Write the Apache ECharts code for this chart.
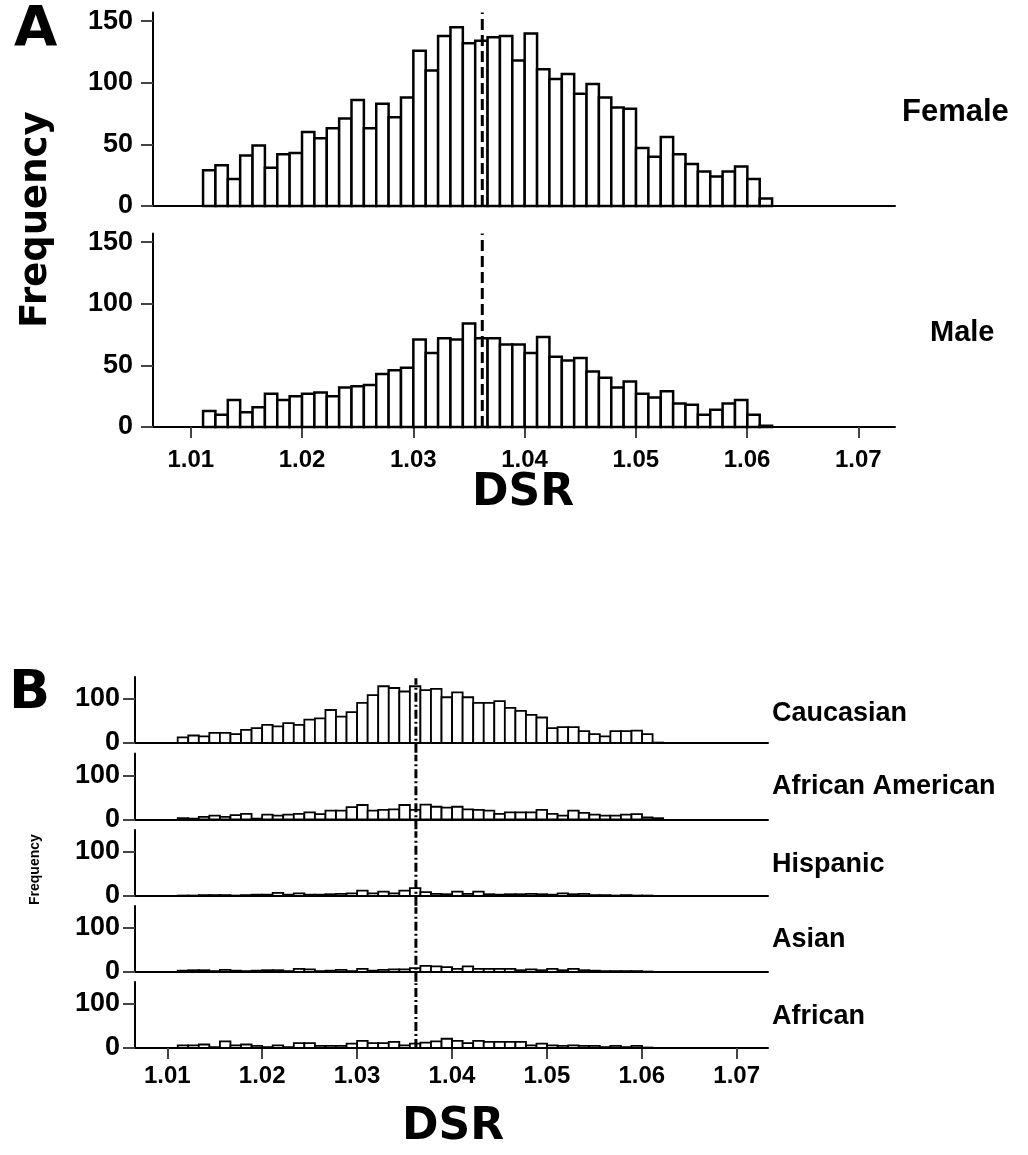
<!DOCTYPE html>
<html>
<head>
<meta charset="utf-8">
<script src="https://cdn.jsdelivr.net/npm/echarts@6/dist/echarts.min.js"></script>
<style>
  html, body { margin: 0; padding: 0; background: #fff; }
  #chart { width: 1028px; height: 1155px; }
</style>
</head>
<body>
<div id="chart"></div>
<script>
// histogram bins (DSR)
var binStart = 1.0111;
var binWidth = 0.001112;
var meanDSR = 1.0362;
var xTicks = [1.01, 1.02, 1.03, 1.04, 1.05, 1.06, 1.07];
var yTicksA = [0, 50, 100, 150];
var yTicksB = [0, 100];

// panel A
var female = [29, 33, 22, 41, 49, 31, 42, 43, 60, 55, 63, 71, 86, 63, 83, 72, 88, 126, 110, 138, 145, 132, 134,
  137, 138, 118, 140, 111, 103, 107, 91, 99, 88, 80, 79, 47, 40, 56, 42, 34, 28, 24, 28, 32, 22, 6];
var male = [13, 10, 22, 12, 16, 27, 22, 25, 27, 28, 25, 32, 33, 34, 43, 46, 48, 71, 60, 72, 71, 84, 72,
  72, 67, 67, 60, 73, 57, 54, 56, 45, 40, 32, 37, 27, 24, 29, 19, 18, 10, 14, 19, 22, 10, 1];

// panel B
var caucasian = [13, 17, 15, 23, 23, 20, 30, 34, 41, 38, 45, 41, 53, 56, 75, 60, 70, 91, 109, 129, 125, 117, 129,
  120, 123, 104, 115, 104, 91, 91, 95, 80, 73, 64, 58, 34, 36, 36, 27, 20, 15, 27, 27, 28, 20, 1];
var africanAmerican = [3, 2, 6, 9, 6, 10, 13, 2, 11, 9, 11, 13, 16, 12, 20, 20, 28, 33, 20, 22, 23, 33, 22,
  34, 29, 27, 29, 23, 22, 20, 13, 16, 16, 16, 22, 13, 9, 20, 15, 11, 9, 9, 11, 12, 5, 3];
var hispanic = [1, 1, 2, 2, 2, 1, 2, 3, 3, 7, 3, 6, 3, 3, 4, 5, 6, 12, 6, 10, 6, 12, 18,
  9, 5, 4, 10, 5, 10, 4, 3, 4, 4, 5, 4, 3, 6, 4, 5, 2, 2, 1, 2, 1, 1, 0];
var asian = [3, 4, 4, 2, 5, 3, 2, 3, 4, 4, 2, 7, 6, 2, 3, 5, 2, 7, 3, 5, 6, 6, 9,
  14, 13, 11, 7, 13, 7, 7, 7, 7, 4, 6, 4, 7, 4, 7, 4, 3, 2, 2, 2, 2, 1, 0];
var african = [6, 6, 8, 2, 15, 6, 8, 5, 2, 6, 2, 11, 11, 5, 5, 5, 10, 16, 11, 11, 14, 6, 10,
  12, 15, 21, 16, 11, 16, 14, 14, 14, 14, 6, 10, 6, 5, 6, 5, 5, 2, 5, 2, 5, 1, 0];

var groupsB = ['Caucasian', 'African American', 'Hispanic', 'Asian', 'African'];
var seriesB = [caucasian, africanAmerican, hispanic, asian, african];

var chart = echarts.init(document.getElementById('chart'));

function binData(counts) {
  return counts.map(function (c, i) {
    return [binStart + i * binWidth, binStart + (i + 1) * binWidth, c];
  });
}

function barRenderer(lw) {
  return function (params, api) {
    var p0 = api.coord([api.value(0), api.value(2)]);
    var p1 = api.coord([api.value(1), 0]);
    return {
      type: 'rect',
      shape: { x: p0[0], y: p0[1], width: p1[0] - p0[0], height: p1[1] - p0[1] },
      style: { fill: '#fff', stroke: '#000', lineWidth: lw }
    };
  };
}

var FONT = 'Liberation Sans';
var TITLE_FONT = 'DejaVu Sans';
var xMin = 1.0066, xMax = 1.0733;

var grids = [], xAxes = [], yAxes = [], series = [];

function addPanel(g, counts, opt) {
  var idx = grids.length;
  grids.push(g);
  xAxes.push({
    gridIndex: idx, type: 'value', min: xMin, max: xMax,
    axisLine: { lineStyle: { color: '#000', width: 2 } },
    axisTick: { show: opt.showX, length: 11, lineStyle: { color: '#444', width: 2 }, customValues: xTicks },
    axisLabel: {
      show: opt.showX, customValues: xTicks, margin: opt.xMargin,
      color: '#000', fontFamily: FONT, fontWeight: 'bold', fontSize: 24,
      formatter: function (v) { return v.toFixed(2); }
    },
    splitLine: { show: false }
  });
  yAxes.push({
    gridIndex: idx, type: 'value', min: 0, max: opt.yMax,
    axisLine: { show: true, lineStyle: { color: '#000', width: 2 } },
    axisTick: { show: true, length: 12, lineStyle: { color: '#444', width: 2 }, customValues: opt.yTicks },
    axisLabel: {
      customValues: opt.yTicks, margin: opt.yMargin,
      color: '#000', fontFamily: FONT, fontWeight: 'bold', fontSize: 27
    },
    splitLine: { show: false }
  });
  series.push({
    type: 'custom', xAxisIndex: idx, yAxisIndex: idx,
    renderItem: barRenderer(opt.lw),
    data: binData(counts), clip: false, silent: true
  });
  series.push({
    type: 'line', xAxisIndex: idx, yAxisIndex: idx, clip: false, silent: true,
    symbol: 'none', z: 5,
    data: [[meanDSR, opt.lineLo], [meanDSR, opt.lineHi]],
    lineStyle: { color: '#000', width: 3, type: opt.dash }
  });
}

// panel A
addPanel({ left: 153, width: 742, top: 12.5, height: 193.5 }, female,
  { showX: false, xMargin: 21, yMax: 157, yTicks: yTicksA, yMargin: 20, lw: 2.5, lineLo: 0, lineHi: 157, dash: [11, 5] });
addPanel({ left: 153, width: 742, top: 233.5, height: 193.5 }, male,
  { showX: true, xMargin: 21, yMax: 157, yTicks: yTicksA, yMargin: 20, lw: 2.5, lineLo: 0, lineHi: 157, dash: [11, 5] });

// panel B
var bottomsB = [743, 819.5, 896, 972, 1048];
bottomsB.forEach(function (b, i) {
  var last = i === bottomsB.length - 1;
  addPanel({ left: 135, width: 633, top: b - 66, height: 66 }, seriesB[i],
    { showX: last, xMargin: 16, yMax: 150, yTicks: yTicksB, yMargin: 15, lw: 1.8,
      lineLo: last ? 0 : -22, lineHi: 147, dash: [9, 3, 2, 3] });
});

function text(str, x, y, font, extra) {
  var t = { type: 'text', x: x, y: y, silent: true,
    style: { text: str, fill: '#000', font: font, verticalAlign: 'middle' } };
  if (extra) { for (var k in extra) t[k] = extra[k]; }
  return t;
}

var graphics = [
  text('A', 14, 30, 'bold 56px "' + TITLE_FONT + '"'),
  text('B', 9, 694, 'bold 54px "' + TITLE_FONT + '"'),
  text('Frequency', 36, 328, 'bold 37px "' + TITLE_FONT + '"', { rotation: Math.PI / 2 }),
  text('Frequency', 35, 905, 'bold 14px "' + FONT + '"', { rotation: Math.PI / 2 }),
  text('DSR', 472, 494, 'bold 44px "' + TITLE_FONT + '"'),
  text('DSR', 402, 1128, 'bold 44px "' + TITLE_FONT + '"'),
  text('Female', 902, 112, 'bold 31px "' + FONT + '"'),
  text('Male', 930, 333, 'bold 29px "' + FONT + '"')
];
var groupY = [714, 787, 865, 940, 1017];
groupsB.forEach(function (name, i) {
  graphics.push(text(name, 772, groupY[i], 'bold 27px "' + FONT + '"'));
});

var option = {
  backgroundColor: '#fff',
  animation: false,
  grid: grids,
  xAxis: xAxes,
  yAxis: yAxes,
  series: series,
  graphic: graphics
};
chart.setOption(option);
</script>
</body>
</html>
